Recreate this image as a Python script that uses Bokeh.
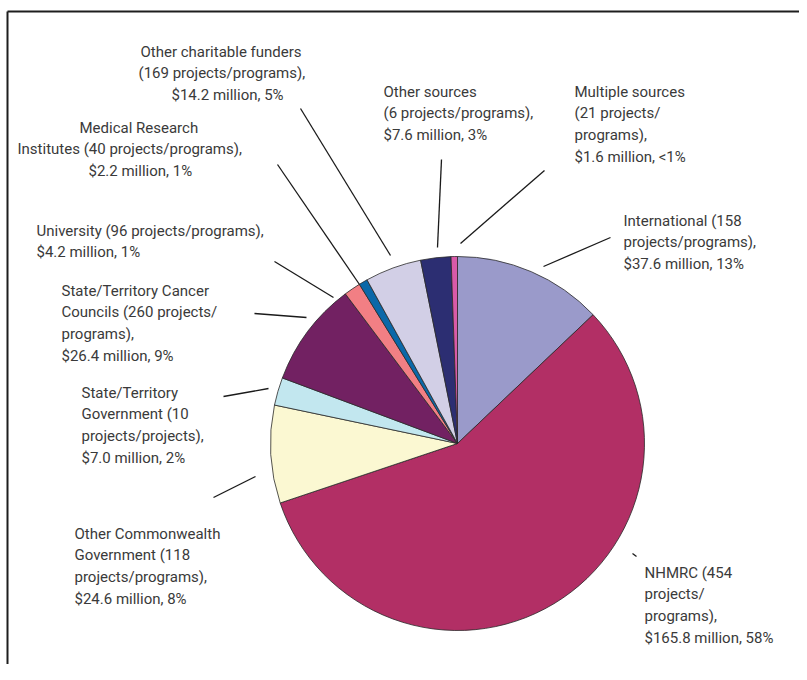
import math
from bokeh.plotting import figure
from bokeh.models import Range1d, ColumnDataSource
from bokeh.core.properties import value
from bokeh.embed import file_html
from bokeh.resources import INLINE

# ---- data (clockwise from 12 o'clock) ----
categories = ["International", "NHMRC", "Other Commonwealth Government",
              "State/Territory Government", "State/Territory Cancer Councils",
              "University", "Medical Research Institutes",
              "Other charitable funders", "Other sources", "Multiple sources"]
projects = [158, 454, 118, 10, 260, 96, 40, 169, 6, 21]
funding_musd = [37.6, 165.8, 24.6, 7.0, 26.4, 4.2, 2.2, 14.2, 7.6, 1.6]
percent_labels = ["13%", "58%", "8%", "2%", "9%", "1%", "1%", "5%", "3%", "<1%"]
colors = ["#9a9aca", "#b22f65", "#fbf8d2", "#c2e7ef", "#722162",
          "#f27f84", "#0b68a8", "#d2cfe6", "#2c2e72", "#d95aa8"]

label_lines = [
    ["International (158", "projects/programs),", "$37.6 million, 13%"],
    ["NHMRC (454", "projects/", "programs),", "$165.8 million, 58%"],
    ["Other Commonwealth", "Government (118", "projects/programs),", "$24.6 million, 8%"],
    ["State/Territory", "Government (10", "projects/projects),", "$7.0 million, 2%"],
    ["State/Territory Cancer", "Councils (260 projects/", "programs),", "$26.4 million, 9%"],
    ["University (96 projects/programs),", "$4.2 million, 1%"],
    ["Medical Research", "Institutes (40 projects/programs),", "$2.2 million, 1%"],
    ["Other charitable funders", "(169 projects/programs),", "$14.2 million, 5%"],
    ["Other sources", "(6 projects/programs),", "$7.6 million, 3%"],
    ["Multiple sources", "(21 projects/", "programs),", "$1.6 million, <1%"],
]

# ---- layout (screen pixels of the page) ----
W, H = 799, 664
CX, CY, R = 457, 443, 187
# left x of each line, baseline of first line
label_pos = [(623, 220), (644, 572), (74, 533), (81, 392), (61, 290),
             (36, 230), (None, 127), (None, 51), (383, 91), (574, 91)]
# per-line x offsets for the centred-looking blocks
custom_x = {6: [79, 17, 88], 7: [140, 138, 171]}
LINE_H = 21.7
leaders = [((610, 237), (543, 266)), ((632, 553), (636, 556)),
           ((213, 497), (255, 476)), ((223, 396), (268, 388)),
           ((254, 313), (306, 317)), ((274, 261), (333, 297)),
           ((277, 164), (359, 284)), ((300, 108), (390, 255)),
           ((441, 159), (437, 247)), ((544, 170), (460, 243))]

p = figure(width=W, height=H, output_backend="svg", toolbar_location=None,
           x_range=Range1d(0, W), y_range=Range1d(-H, 0),
           min_border=0, outline_line_color=None)
p.axis.visible = False
p.grid.visible = False
p.background_fill_color = "white"
p.border_fill_color = "white"

# frame (top and left edges visible)
p.line(x=[7, W + 20], y=[-11, -11], line_color="#1e1e1e", line_width=2)
p.line(x=[7, 7], y=[-11, -H - 20], line_color="#1e1e1e", line_width=2)

total = sum(funding_musd)
starts, ends = [], []
cum = 0.0
for v in funding_musd:
    starts.append(math.pi / 2 - 2 * math.pi * cum / total)
    cum += v
    ends.append(math.pi / 2 - 2 * math.pi * cum / total)

src = ColumnDataSource(dict(cat=categories, start=starts, end=ends, color=colors,
                            x=[CX] * len(categories), y=[-CY] * len(categories)))
p.wedge(x="x", y="y", radius=R, start_angle="start", end_angle="end",
        direction="clock", fill_color="color", line_color="#2a2a2a",
        line_width=0.8, source=src)

# leader lines
p.segment(x0=[a[0] for a, b in leaders], y0=[-a[1] for a, b in leaders],
          x1=[b[0] for a, b in leaders], y1=[-b[1] for a, b in leaders],
          line_color="#1a1a1a", line_width=1.3)

# labels
tx, ty, tt = [], [], []
for i, lines in enumerate(label_lines):
    x0, y0 = label_pos[i]
    for j, t in enumerate(lines):
        x = custom_x[i][j] if i in custom_x else x0
        tx.append(x)
        ty.append(-(y0 + j * LINE_H))
        tt.append(t)
p.text(x=tx, y=ty, text=tt, text_font=value("Roboto"),
       text_font_size="15px", text_color="#3a3a3a", text_baseline="alphabetic",
       text_align="left")

open("out.html", "w").write(file_html(p, INLINE))
